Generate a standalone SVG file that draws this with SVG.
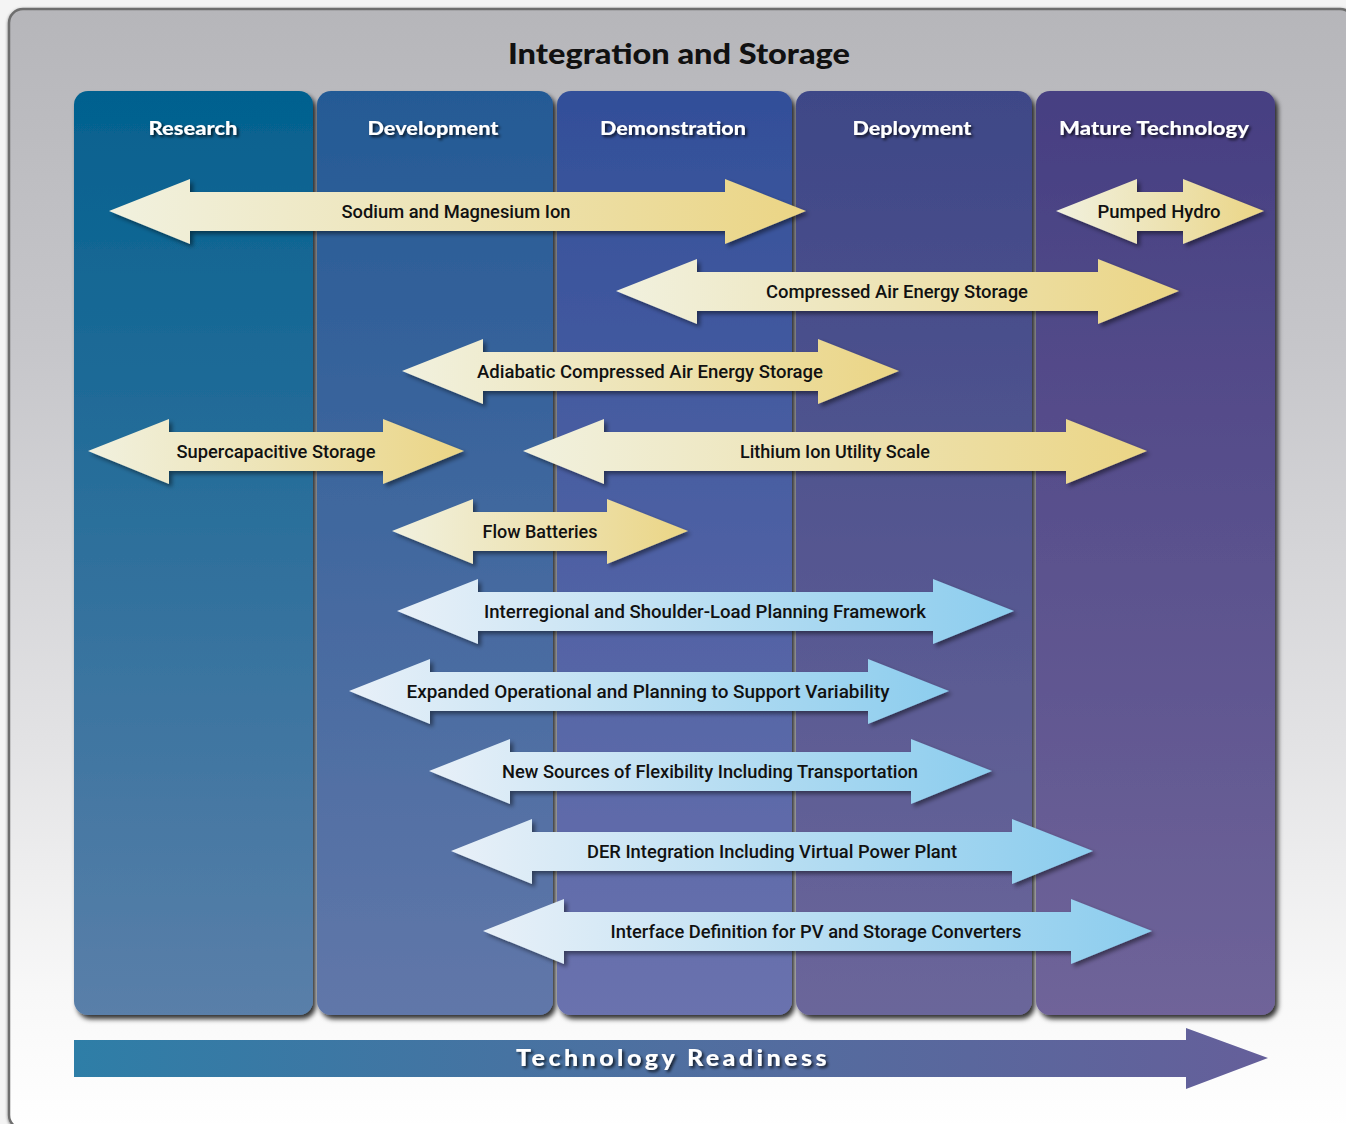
<svg xmlns="http://www.w3.org/2000/svg" width="1346" height="1124" viewBox="0 0 1346 1124">
<defs>
<linearGradient id="bg" x1="0" y1="0" x2="0" y2="1">
<stop offset="0" stop-color="#b6b6ba"/>
<stop offset="0.3" stop-color="#c6c6ca"/>
<stop offset="0.65" stop-color="#e2e2e4"/>
<stop offset="0.88" stop-color="#f8f8f8"/>
<stop offset="1" stop-color="#ffffff"/>
</linearGradient>
<linearGradient id="c1" x1="0" y1="0" x2="0" y2="1"><stop offset="0" stop-color="#03618f"/><stop offset="1" stop-color="#5a7fa9"/></linearGradient>
<linearGradient id="c2" x1="0" y1="0" x2="0" y2="1"><stop offset="0" stop-color="#245a95"/><stop offset="1" stop-color="#6177a9"/></linearGradient>
<linearGradient id="c3" x1="0" y1="0" x2="0" y2="1"><stop offset="0" stop-color="#324f99"/><stop offset="1" stop-color="#6a72ae"/></linearGradient>
<linearGradient id="c4" x1="0" y1="0" x2="0" y2="1"><stop offset="0" stop-color="#3e4787"/><stop offset="1" stop-color="#6b669a"/></linearGradient>
<linearGradient id="c5" x1="0" y1="0" x2="0" y2="1"><stop offset="0" stop-color="#463f82"/><stop offset="1" stop-color="#6f6499"/></linearGradient>
<linearGradient id="ay" x1="0" y1="0" x2="1" y2="0"><stop offset="0" stop-color="#f1f1df"/><stop offset="0.5" stop-color="#ede3b4"/><stop offset="1" stop-color="#ebd585"/></linearGradient>
<linearGradient id="ab" x1="0" y1="0" x2="1" y2="0"><stop offset="0" stop-color="#e8f0f8"/><stop offset="0.5" stop-color="#b9def2"/><stop offset="1" stop-color="#8ccdee"/></linearGradient>
<linearGradient id="tr" x1="0" y1="0" x2="1" y2="0"><stop offset="0" stop-color="#2e7ea7"/><stop offset="0.5" stop-color="#4f6fa0"/><stop offset="1" stop-color="#655f9a"/></linearGradient>
<filter id="colsh" x="-10%" y="-5%" width="125%" height="115%"><feDropShadow dx="3" dy="4" stdDeviation="2.5" flood-color="#000" flood-opacity="0.8"/></filter>
<filter id="arsh" x="-10%" y="-20%" width="125%" height="150%"><feDropShadow dx="3" dy="3" stdDeviation="2" flood-color="#000" flood-opacity="0.45"/></filter>
<filter id="txsh" x="-10%" y="-30%" width="125%" height="170%"><feDropShadow dx="2" dy="2" stdDeviation="1.5" flood-color="#000" flood-opacity="0.75"/></filter>
<filter id="pansh" x="-5%" y="-5%" width="110%" height="110%"><feDropShadow dx="0" dy="1" stdDeviation="1.5" flood-color="#000" flood-opacity="0.5"/></filter>
</defs>
<style>
.hdr{font-family:"Lato","DejaVu Sans",sans-serif;font-weight:900;font-size:19px;fill:#ffffff;text-anchor:middle}
.lbl{font-family:"Roboto","Liberation Sans",sans-serif;font-weight:500;font-size:19px;fill:#111111;text-anchor:middle}
.ttl{font-family:"Lato","DejaVu Sans",sans-serif;font-weight:900;font-size:28px;fill:#111111;text-anchor:middle}
.rdy{font-family:"Lato","DejaVu Sans",sans-serif;font-weight:900;font-size:22px;fill:#ffffff;text-anchor:middle;letter-spacing:3px}
.ya{fill:url(#ay);filter:url(#arsh)}
.ba{fill:url(#ab);filter:url(#arsh)}
</style>
<rect x="0" y="0" width="1346" height="1124" fill="#f4f4f4"/>
<rect x="9" y="9" width="1345" height="1120" rx="14" fill="url(#bg)" stroke="#6e6e6e" stroke-width="2.5" filter="url(#pansh)"/>
<text class="ttl" x="679" y="64" textLength="342" lengthAdjust="spacingAndGlyphs">Integration and Storage</text>

<g id="columns">
<g id="col-research"><rect x="74" y="91" width="239" height="924" rx="14" fill="url(#c1)" filter="url(#colsh)"/><text class="hdr" x="193" y="135" filter="url(#txsh)" textLength="89" lengthAdjust="spacingAndGlyphs">Research</text></g>
<g id="col-development"><rect x="317" y="91" width="236" height="924" rx="14" fill="url(#c2)" filter="url(#colsh)"/><text class="hdr" x="433" y="135" filter="url(#txsh)" textLength="131" lengthAdjust="spacingAndGlyphs">Development</text></g>
<g id="col-demonstration"><rect x="557" y="91" width="235" height="924" rx="14" fill="url(#c3)" filter="url(#colsh)"/><text class="hdr" x="673" y="135" filter="url(#txsh)" textLength="146" lengthAdjust="spacingAndGlyphs">Demonstration</text></g>
<g id="col-deployment"><rect x="796" y="91" width="236" height="924" rx="14" fill="url(#c4)" filter="url(#colsh)"/><text class="hdr" x="912" y="135" filter="url(#txsh)" textLength="119" lengthAdjust="spacingAndGlyphs">Deployment</text></g>
<g id="col-mature"><rect x="1036" y="91" width="239" height="924" rx="14" fill="url(#c5)" filter="url(#colsh)"/><text class="hdr" x="1154" y="135" filter="url(#txsh)" textLength="190" lengthAdjust="spacingAndGlyphs">Mature Technology</text></g>
</g>

<g id="connectors">
<g id="sodium"><path class="ya" d="M109,211 L190,179 L190,192 L725,192 L725,179 L806,211 L725,244 L725,231 L190,231 L190,244 Z"/><text class="lbl" x="456" y="218" textLength="229" lengthAdjust="spacingAndGlyphs">Sodium and Magnesium Ion</text></g>
<g id="pumped"><path class="ya" d="M1056,211 L1137,179 L1137,192 L1183,192 L1183,179 L1264,211 L1183,244 L1183,231 L1137,231 L1137,244 Z"/><text class="lbl" x="1159" y="218" textLength="123" lengthAdjust="spacingAndGlyphs">Pumped Hydro</text></g>
<g id="caes"><path class="ya" d="M616,291 L697,259 L697,272 L1098,272 L1098,259 L1179,291 L1098,324 L1098,311 L697,311 L697,324 Z"/><text class="lbl" x="897" y="298" textLength="262" lengthAdjust="spacingAndGlyphs">Compressed Air Energy Storage</text></g>
<g id="acaes"><path class="ya" d="M402,371 L483,339 L483,352 L818,352 L818,339 L899,371 L818,404 L818,391 L483,391 L483,404 Z"/><text class="lbl" x="650" y="378" textLength="346" lengthAdjust="spacingAndGlyphs">Adiabatic Compressed Air Energy Storage</text></g>
<g id="supercap"><path class="ya" d="M88,451 L169,419 L169,432 L383,432 L383,419 L464,451 L383,484 L383,471 L169,471 L169,484 Z"/><text class="lbl" x="276" y="458" textLength="199" lengthAdjust="spacingAndGlyphs">Supercapacitive Storage</text></g>
<g id="lithium"><path class="ya" d="M523,451 L604,419 L604,432 L1066,432 L1066,419 L1147,451 L1066,484 L1066,471 L604,471 L604,484 Z"/><text class="lbl" x="835" y="458" textLength="190" lengthAdjust="spacingAndGlyphs">Lithium Ion Utility Scale</text></g>
<g id="flow"><path class="ya" d="M392,531 L473,499 L473,512 L607,512 L607,499 L688,531 L607,564 L607,551 L473,551 L473,564 Z"/><text class="lbl" x="540" y="538" textLength="115" lengthAdjust="spacingAndGlyphs">Flow Batteries</text></g>
<g id="interregional"><path class="ba" d="M397,611 L478,579 L478,592 L933,592 L933,579 L1014,611 L933,644 L933,631 L478,631 L478,644 Z"/><text class="lbl" x="705" y="618" textLength="442" lengthAdjust="spacingAndGlyphs">Interregional and Shoulder-Load Planning Framework</text></g>
<g id="expanded"><path class="ba" d="M349,691 L430,659 L430,672 L868,672 L868,659 L949,691 L868,724 L868,711 L430,711 L430,724 Z"/><text class="lbl" x="648" y="698" textLength="483" lengthAdjust="spacingAndGlyphs">Expanded Operational and Planning to Support Variability</text></g>
<g id="newsources"><path class="ba" d="M429,771 L510,739 L510,752 L911,752 L911,739 L992,771 L911,804 L911,791 L510,791 L510,804 Z"/><text class="lbl" x="710" y="778" textLength="416" lengthAdjust="spacingAndGlyphs">New Sources of Flexibility Including Transportation</text></g>
<g id="der"><path class="ba" d="M451,851 L532,819 L532,832 L1012,832 L1012,819 L1093,851 L1012,884 L1012,871 L532,871 L532,884 Z"/><text class="lbl" x="772" y="858" textLength="370" lengthAdjust="spacingAndGlyphs">DER Integration Including Virtual Power Plant</text></g>
<g id="interface"><path class="ba" d="M483,931 L564,899 L564,912 L1071,912 L1071,899 L1152,931 L1071,964 L1071,951 L564,951 L564,964 Z"/><text class="lbl" x="816" y="938" textLength="411" lengthAdjust="spacingAndGlyphs">Interface Definition for PV and Storage Converters</text></g>
</g>

<g id="readiness">
<path d="M74,1040 L1186,1040 L1186,1028 L1268,1058 L1186,1089 L1186,1077 L74,1077 Z" fill="url(#tr)"/>
<text class="rdy" x="673" y="1066" filter="url(#txsh)" textLength="314" lengthAdjust="spacingAndGlyphs">Technology Readiness</text>
</g>
</svg>
